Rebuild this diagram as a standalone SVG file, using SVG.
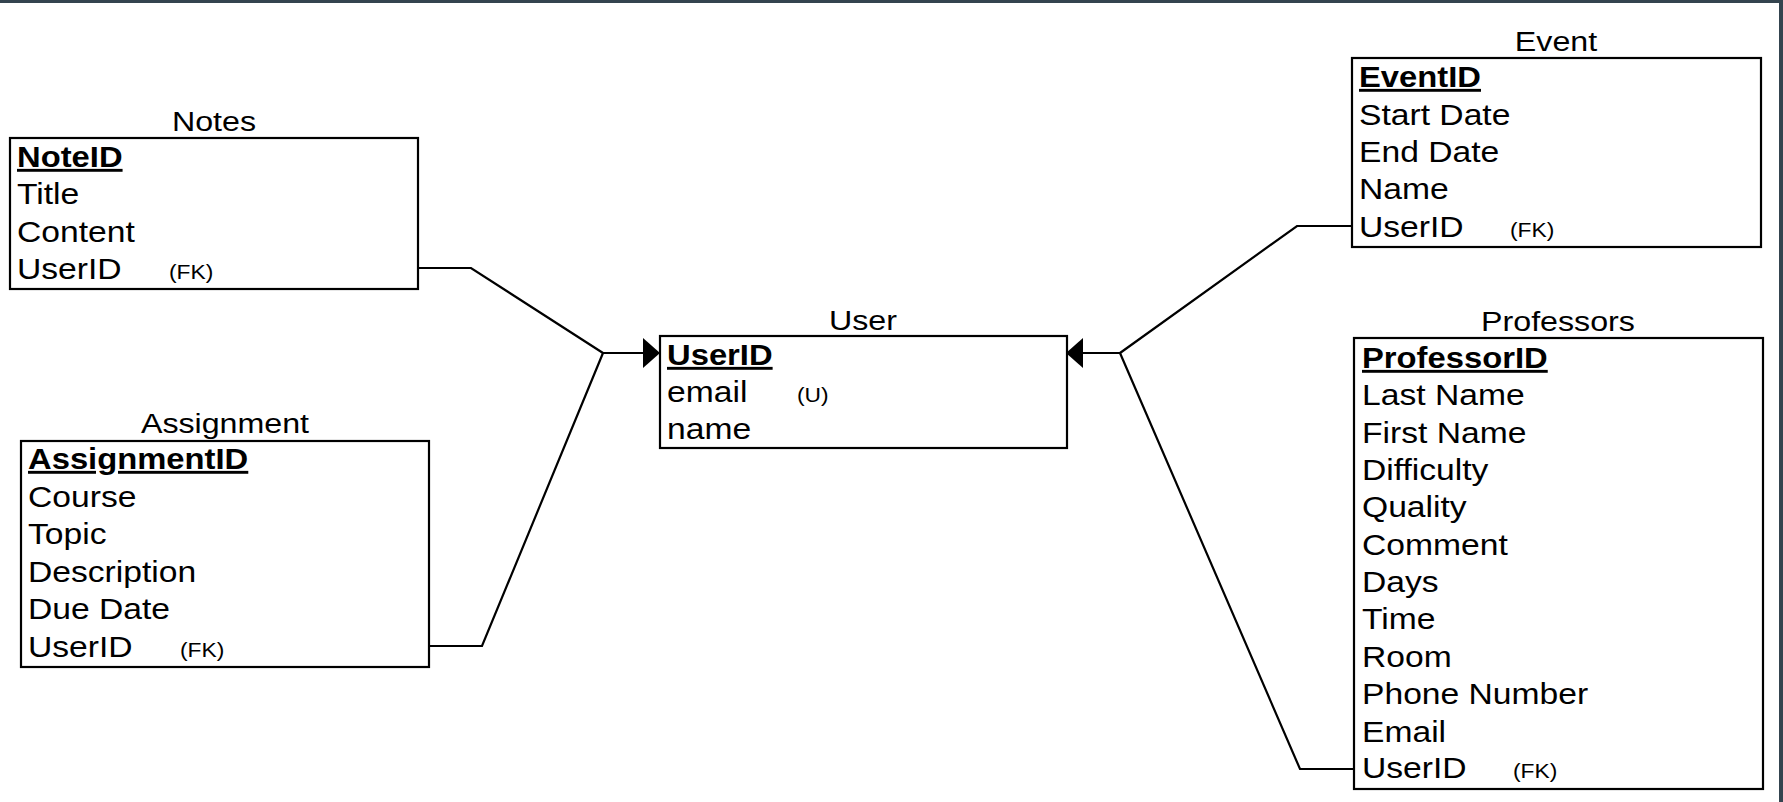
<svg xmlns="http://www.w3.org/2000/svg" width="1783" height="802" viewBox="0 0 1783 802">
<style>
text{font-family:"Liberation Sans",Arial,Helvetica,sans-serif;fill:#000}
.t{font-size:29px}
.title{font-size:28px;text-anchor:middle}
.pk{font-size:29px;font-weight:bold;text-decoration:underline}
.s{font-size:20px}
.box{fill:#fff;stroke:#000;stroke-width:2.2}
.conn{fill:none;stroke:#000;stroke-width:2.2}
</style>
<defs>
<marker id="arr" markerUnits="userSpaceOnUse" markerWidth="17" markerHeight="30" viewBox="0 0 17 30" refX="17" refY="15" orient="auto">
<path d="M0,0 L17,15 L0,30 Z" fill="#000"/>
</marker>
</defs>
<rect x="0" y="0" width="1783" height="802" fill="#fff"/>
<rect x="0" y="0" width="1783" height="3" fill="#34444f"/>
<rect x="1779" y="0" width="4" height="802" fill="#34444f"/>

<g id="connectors">
<polyline class="conn" points="418,268 471,268 603,353"/>
<polyline class="conn" points="429,646 482,646 603,353"/>
<line class="conn" x1="603" y1="353" x2="660" y2="353" marker-end="url(#arr)"/>
<polyline class="conn" points="1352,226 1297,226 1120,353"/>
<polyline class="conn" points="1354,769 1300,769 1120,353"/>
<line class="conn" x1="1120" y1="353" x2="1066" y2="353" marker-end="url(#arr)"/>
</g>

<g id="notes">
<text class="title" transform="translate(214,131) scale(1.15,1)">Notes</text>
<rect class="box" x="10" y="138" width="408" height="151"/>
<text class="pk" transform="translate(17,167) scale(1.13,1)">NoteID</text>
<text class="t" transform="translate(17,204) scale(1.16,1)">Title</text>
<text class="t" transform="translate(17,242) scale(1.16,1)">Content</text>
<text class="t" transform="translate(17,279) scale(1.16,1)">UserID</text>
<text class="s" transform="translate(169,279) scale(1.14,1)">(FK)</text>
</g>

<g id="assignment">
<text class="title" transform="translate(225,433) scale(1.15,1)">Assignment</text>
<rect class="box" x="21" y="441" width="408" height="226"/>
<text class="pk" transform="translate(28,469) scale(1.13,1)">AssignmentID</text>
<text class="t" transform="translate(28,507) scale(1.16,1)">Course</text>
<text class="t" transform="translate(28,544) scale(1.16,1)">Topic</text>
<text class="t" transform="translate(28,582) scale(1.16,1)">Description</text>
<text class="t" transform="translate(28,619) scale(1.16,1)">Due Date</text>
<text class="t" transform="translate(28,657) scale(1.16,1)">UserID</text>
<text class="s" transform="translate(180,657) scale(1.14,1)">(FK)</text>
</g>

<g id="user">
<text class="title" transform="translate(863,330) scale(1.15,1)">User</text>
<rect class="box" x="660" y="336" width="407" height="112"/>
<text class="pk" transform="translate(667,365) scale(1.13,1)">UserID</text>
<text class="t" transform="translate(667,402) scale(1.16,1)">email</text>
<text class="s" transform="translate(797,402) scale(1.14,1)">(U)</text>
<text class="t" transform="translate(667,439) scale(1.16,1)">name</text>
</g>

<g id="event">
<text class="title" transform="translate(1556,51) scale(1.15,1)">Event</text>
<rect class="box" x="1352" y="58" width="409" height="189"/>
<text class="pk" transform="translate(1359,87) scale(1.13,1)">EventID</text>
<text class="t" transform="translate(1359,125) scale(1.16,1)">Start Date</text>
<text class="t" transform="translate(1359,162) scale(1.16,1)">End Date</text>
<text class="t" transform="translate(1359,199) scale(1.16,1)">Name</text>
<text class="t" transform="translate(1359,237) scale(1.16,1)">UserID</text>
<text class="s" transform="translate(1510,237) scale(1.14,1)">(FK)</text>
</g>

<g id="professors">
<text class="title" transform="translate(1558,331) scale(1.15,1)">Professors</text>
<rect class="box" x="1354" y="338" width="409" height="451"/>
<text class="pk" transform="translate(1362,368) scale(1.13,1)">ProfessorID</text>
<text class="t" transform="translate(1362,405) scale(1.16,1)">Last Name</text>
<text class="t" transform="translate(1362,443) scale(1.16,1)">First Name</text>
<text class="t" transform="translate(1362,480) scale(1.16,1)">Difficulty</text>
<text class="t" transform="translate(1362,517) scale(1.16,1)">Quality</text>
<text class="t" transform="translate(1362,555) scale(1.16,1)">Comment</text>
<text class="t" transform="translate(1362,592) scale(1.16,1)">Days</text>
<text class="t" transform="translate(1362,629) scale(1.16,1)">Time</text>
<text class="t" transform="translate(1362,667) scale(1.16,1)">Room</text>
<text class="t" transform="translate(1362,704) scale(1.16,1)">Phone Number</text>
<text class="t" transform="translate(1362,742) scale(1.16,1)">Email</text>
<text class="t" transform="translate(1362,778) scale(1.16,1)">UserID</text>
<text class="s" transform="translate(1513,778) scale(1.14,1)">(FK)</text>
</g>
</svg>
